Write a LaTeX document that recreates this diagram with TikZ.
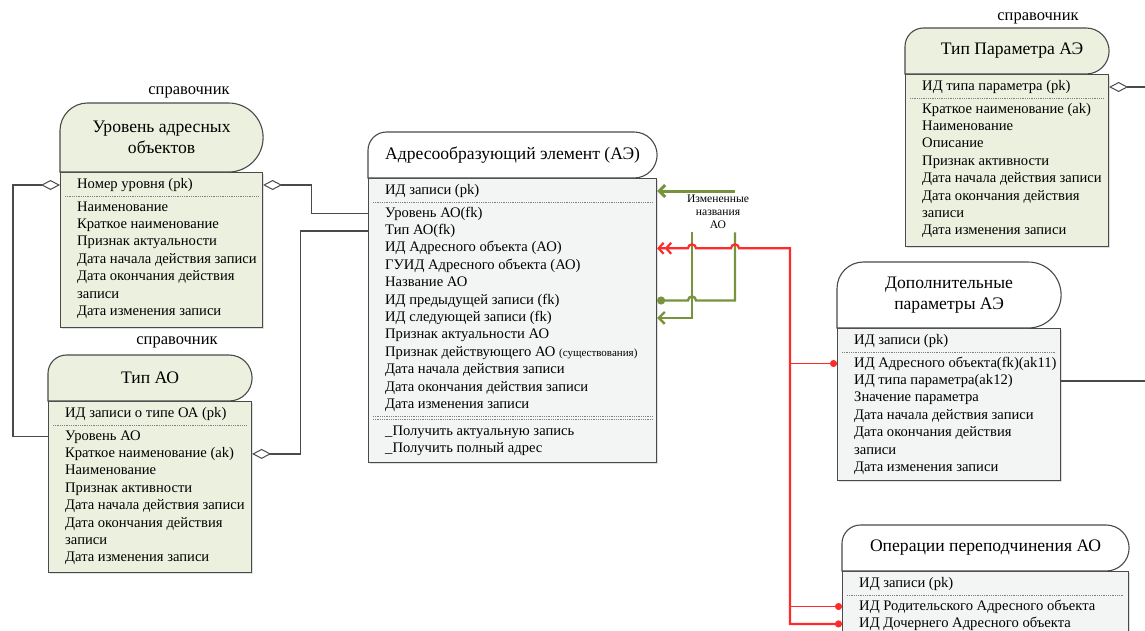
\documentclass[tikz,border=0pt]{standalone}
\usepackage{fontspec}
\setmainfont{Liberation Serif}
\usetikzlibrary{positioning,arrows.meta,calc,shadows}

\definecolor{refgreen}{HTML}{EBF1DE}
\definecolor{bodygray}{HTML}{F3F4F4}
\definecolor{olive}{HTML}{77933C}
\definecolor{linkred}{HTML}{FF2A2A}
\definecolor{edge}{HTML}{4A4A4A}

\begin{document}
\begin{tikzpicture}[x=1pt, y=1pt,
    font=\fontsize{14.6}{17}\selectfont,
    ent/.style={draw=edge, line width=1.1pt, anchor=north west, inner sep=0pt,
                drop shadow={shadow xshift=1.5pt, shadow yshift=-1.5pt, opacity=0.25}},
    hdr/.style={draw=edge, line width=1.1pt},
    ttl/.style={align=center, font=\fontsize{17.6}{20.5}\selectfont},
    row/.style={anchor=west, inner sep=0pt, text height=10.5pt, text depth=3.5pt},
    tag/.style={font=\fontsize{16.5}{18}\selectfont},
    sep/.style={draw=gray, line width=0.8pt, dash pattern=on 1pt off 0.8pt},
    rel/.style={draw=edge, line width=1.2pt},
    agg/.style={rel, {Diamond[open, length=19pt, width=10pt, line width=1pt]}-},
    redl/.style={draw=linkred, line width=2.2pt},
    redthin/.style={draw=linkred, line width=1.4pt},
    grn/.style={draw=olive, line width=2.4pt},
    barb/.tip={Straight Barb[length=6pt, width=12pt]},
    dbarb/.tip={Straight Barb[length=5pt, width=11pt] Straight Barb[length=5pt, width=11pt]},
  ]
    \useasboundingbox (0,0) rectangle (1145,-630);
    \clip (0,0) rectangle (1145,-630);

    % bodies
    \node[ent, fill=refgreen, minimum width=202pt, minimum height=155pt] (lvl)  at (60,-172) {};
    \node[ent, fill=refgreen, minimum width=203pt, minimum height=171pt] (typ)  at (48,-401) {};
    \node[ent, fill=bodygray, minimum width=288pt, minimum height=284pt] (ae)   at (368,-178) {};
    \node[ent, fill=refgreen, minimum width=203pt, minimum height=172pt] (ptyp) at (905,-74) {};
    \node[ent, fill=bodygray, minimum width=223pt, minimum height=152pt] (par)  at (837,-328) {};
    \node[ent, fill=bodygray, minimum width=286pt, minimum height=90pt]  (op)   at (842,-571) {};

    % headers
    \foreach \n/\h/\c in {lvl/69/refgreen, typ/46/refgreen, ae/46/white,
                          ptyp/46/refgreen, par/66/white, op/46/white}
      \draw[hdr, fill=\c] (\n.north west) -- ++(0,\h*0.6)
        arc[start angle=180, end angle=90, radius={\h*0.4pt}]
        -- ($(\n.north east)+(-\h/2,\h)$)
        arc[start angle=90, end angle=-90, radius={\h*0.5pt}] -- cycle;

    \node[ttl] (lvlT)  at ($(lvl.north)+(0,34.5)$)  {Уровень адресных\\объектов};
    \node[ttl] (typT)  at ($(typ.north)+(0,23)$)    {Тип АО};
    \node[ttl] (aeT)   at ($(ae.north)+(0,23)$)     {Адресообразующий элемент (АЭ)};
    \node[ttl] (ptypT) at ($(ptyp.north)+(5,23)$)   {Тип Параметра АЭ};
    \node[ttl] (parT)  at ($(par.north)+(0,33)$)    {Дополнительные\\параметры АЭ};
    \node[ttl] (opT)   at ($(op.north)+(0,23)$)     {Операции переподчинения АО};

    \node[tag] (lvlR)  at (189,-92)  {справочник};
    \node[tag] (typR)  at (177,-342) {справочник};
    \node[tag] (ptypR) at (1038,-18) {справочник};

    % rows: Уровень адресных объектов
    \node[row] (lvl-0) at ($(lvl.north west)+(17,-13)$) {Номер уровня (pk)};
    \draw[sep] ($(lvl.north west)+(5,-24.5)$) -- ($(lvl.north east)+(-5,-24.5)$);
    \foreach \t [count=\i] in {Наименование, Краткое наименование, Признак актуальности,
        Дата начала действия записи, Дата окончания действия, записи, Дата изменения записи}
      \node[row] (lvl-\i) at ($(lvl.north west)+(17,-18.1-17.4*\i)$) {\t};

    % rows: Тип АО
    \node[row] (typ-0) at ($(typ.north west)+(17,-13)$) {ИД записи о типе ОА (pk)};
    \draw[sep] ($(typ.north west)+(5,-24.5)$) -- ($(typ.north east)+(-5,-24.5)$);
    \foreach \t [count=\i] in {Уровень АО, Краткое наименование (ak), Наименование,
        Признак активности, Дата начала действия записи, Дата окончания действия,
        записи, Дата изменения записи}
      \node[row] (typ-\i) at ($(typ.north west)+(17,-18.1-17.4*\i)$) {\t};

    % rows: Адресообразующий элемент
    \node[row] (ae-0) at ($(ae.north west)+(17,-13)$) {ИД записи (pk)};
    \draw[sep] ($(ae.north west)+(5,-24.5)$) -- ($(ae.north east)+(-5,-24.5)$);
    \foreach \t [count=\i] in {Уровень АО(fk), Тип АО(fk), ИД Адресного объекта (АО),
        ГУИД Адресного объекта (АО), Название АО, ИД предыдущей записи (fk),
        ИД следующей записи (fk), Признак актуальности АО,
        {Признак действующего АО {\fontsize{11}{12}\selectfont(существования)}},
        Дата начала действия записи, Дата окончания действия записи, Дата изменения записи}
      \node[row] (ae-\i) at ($(ae.north west)+(17,-18.1-17.4*\i)$) {\t};
    \draw[sep] ($(ae.north west)+(5,-238.5)$) -- ($(ae.north east)+(-5,-238.5)$);
    \draw[sep] ($(ae.north west)+(5,-241.5)$) -- ($(ae.north east)+(-5,-241.5)$);
    \node[row] (ae-m1) at ($(ae.north west)+(17,-253.5)$) {\_Получить актуальную запись};
    \node[row] (ae-m2) at ($(ae.north west)+(17,-271)$)   {\_Получить полный адрес};

    % rows: Тип Параметра АЭ
    \node[row] (ptyp-0) at ($(ptyp.north west)+(17,-13)$) {ИД типа параметра (pk)};
    \draw[sep] ($(ptyp.north west)+(5,-24.5)$) -- ($(ptyp.north east)+(-5,-24.5)$);
    \foreach \t [count=\i] in {Краткое наименование (ak), Наименование, Описание,
        Признак активности, Дата начала действия записи, Дата окончания действия,
        записи, Дата изменения записи}
      \node[row] (ptyp-\i) at ($(ptyp.north west)+(17,-18.1-17.4*\i)$) {\t};

    % rows: Дополнительные параметры АЭ
    \node[row] (par-0) at ($(par.north west)+(17,-13)$) {ИД записи (pk)};
    \draw[sep] ($(par.north west)+(5,-24.5)$) -- ($(par.north east)+(-5,-24.5)$);
    \foreach \t [count=\i] in {ИД Адресного объекта(fk)(ak11), ИД типа параметра(ak12),
        Значение параметра, Дата начала действия записи, Дата окончания действия,
        записи, Дата изменения записи}
      \node[row] (par-\i) at ($(par.north west)+(17,-18.1-17.4*\i)$) {\t};

    % rows: Операции переподчинения АО
    \node[row] (op-0) at ($(op.north west)+(17,-13)$) {ИД записи (pk)};
    \draw[sep] ($(op.north west)+(5,-24.5)$) -- ($(op.north east)+(-5,-24.5)$);
    \foreach \t [count=\i] in {ИД Родительского Адресного объекта, ИД Дочернего Адресного объекта}
      \node[row] (op-\i) at ($(op.north west)+(17,-18.1-17.4*\i)$) {\t};

    % reference links
    \draw[agg] (lvl-0 -| lvl.west) -- ++(-47,0) |- (typ-1 -| typ.west);
    \draw[agg] (lvl-0 -| lvl.east) -- ++(48,0) |- (ae-1 -| ae.west);
    \draw[agg] (typ-2 -| typ.east) -- ++(48,0) |- (ae-2 -| ae.west);
    \draw[agg] (ptyp-0 -| ptyp.east) -- ++(45,0);
    \draw[rel] (par-2 -| par.east) -- ++(90,0);

    % self links (olive) and AO links (red)
    \coordinate (gv1)  at (692,0);
    \coordinate (gv2)  at (735,0);
    \coordinate (redx) at (790,0);
    \node[font=\fontsize{11.6}{13}\selectfont, align=center] (chg) at (718,-212)
      {Измененные\\названия\\АО};

    \draw[grn, line width=3pt, {barb}-] (ae-0 -| ae.east) -- (ae-0 -| gv2);
    \draw[grn, -{Circle[length=8pt]}] (chg.south -| gv2) -- (gv2 |- ae-6)
      -- ($(ae-6 -| gv1)+(4,0)$) arc[start angle=0, end angle=180, radius=4pt]
      -- (ae-6 -| ae.east);
    \draw[grn, -{barb}] (chg.south -| gv1) -- (gv1 |- ae-7) -- (ae-7 -| ae.east);

    \draw[redl, {dbarb}-{Circle[length=7pt]}]
      (ae-3 -| ae.east) -- ($(ae-3 -| gv1)+(-4,0)$) arc[start angle=180, end angle=0, radius=4pt]
      -- ($(ae-3 -| gv2)+(-4,0)$) arc[start angle=180, end angle=0, radius=4pt]
      -- (ae-3 -| redx) -- (redx |- op-2) -- (op-2 -| op.west);
    \draw[redthin, -{Circle[length=7pt]}] (redx |- par-1) -- (par-1 -| par.west);
    \draw[redthin, -{Circle[length=7pt]}] (redx |- op-1) -- (op-1 -| op.west);
\end{tikzpicture}
\end{document}
